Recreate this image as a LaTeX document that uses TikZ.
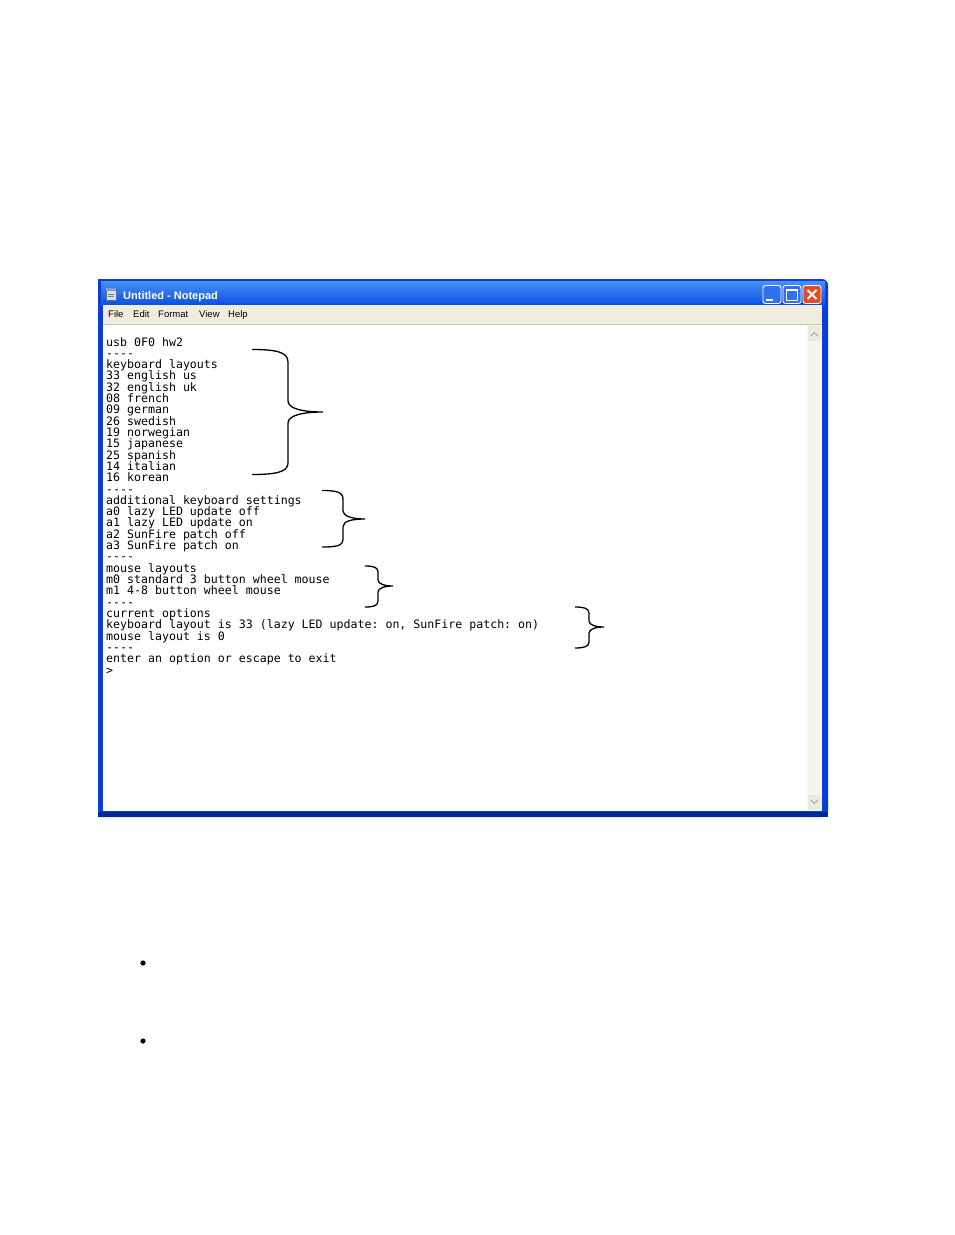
\documentclass[tikz,border=0pt]{standalone}
\usepackage{fontspec}
\setmainfont{Liberation Sans}
\setsansfont{Liberation Sans}
\setmonofont{DejaVu Sans Mono}
\begin{document}
\begin{tikzpicture}[x=1pt,y=-1pt,
  txt/.style={anchor=base west,inner sep=0pt,font=\ttfamily\fontsize{11.6}{11.3}\selectfont},
  menu/.style={anchor=base west,inner sep=0pt,font=\sffamily\fontsize{9.5}{10}\selectfont},
  brace/.style={draw=black,line width=1.3pt},
  winbtn/.style={draw=white,line width=0.9pt,rounded corners=2.5pt},
  dot/.style={circle,fill=black,inner sep=0pt,minimum size=5.2pt}]
\useasboundingbox (0,0) rectangle (954,1235);
\fill[white] (0,0) rectangle (954,1235);
% window frame
\fill[rounded corners=6pt,fill={rgb,255:red,12;green,62;blue,214}] (98,279) -- (828,279) -- (828,817) [sharp corners] -- (98,817) -- cycle;
\fill[fill={rgb,255:red,0;green,40;blue,150}] (98,812) rectangle (828,817);
\shade[top color={rgb,255:red,70;green,145;blue,250},bottom color={rgb,255:red,10;green,80;blue,225}] (101,281) rectangle (825,305);
% title bar content
\node[anchor=base west,inner sep=0pt,text=white,font=\sffamily\bfseries\fontsize{11}{12}\selectfont] (title) at (123,299.5) {Untitled - Notepad};
\fill[fill={rgb,255:red,210;green,225;blue,245},draw={rgb,255:red,90;green,110;blue,150}] (106,288) rectangle (116,300);
\fill[fill={rgb,255:red,120;green,160;blue,200}] (106,288) rectangle (116,291);
\draw[gray,line width=0.5pt] (108,294) -- (114,294) (108,296.5) -- (114,296.5);
% window buttons
\node[winbtn,fill={rgb,255:red,50;green,110;blue,240},minimum width=18pt,minimum height=18pt,inner sep=0pt] (bmin) at (772,294.5) {};
\draw[white,line width=2pt] (766,299.5) -- (773,299.5);
\node[winbtn,fill={rgb,255:red,50;green,110;blue,240},minimum width=18pt,minimum height=18pt,inner sep=0pt] (bmax) at (792,294.5) {};
\draw[white,line width=0.9pt] (786.5,289) rectangle (797.5,300);
\draw[white,line width=2pt] (786.5,290) -- (797.5,290);
\node[winbtn,fill={rgb,255:red,225;green,75;blue,40},minimum width=18pt,minimum height=18pt,inner sep=0pt] (bclose) at (812,294.5) {};
\draw[white,line width=1.8pt] (807.5,290) -- (816.5,299) (807.5,299) -- (816.5,290);
% menu bar
\fill[fill={rgb,255:red,240;green,237;blue,222}] (103,305) rectangle (822,324);
\draw[fill=none,draw={rgb,255:red,200;green,200;blue,190},line width=0.6pt] (103,324) -- (822,324);
\node[menu] (mfile) at (108,317.5) {File};
\node[menu] (medit) at (133,317.5) {Edit};
\node[menu] (mformat) at (158,317.5) {Format};
\node[menu] (mview) at (199,317.5) {View};
\node[menu] (mhelp) at (228,317.5) {Help};
% client area
\fill[white] (103,325) rectangle (807,811);
% scrollbar
\fill[fill={rgb,255:red,246;green,245;blue,238}] (807,325) rectangle (822,811);
\fill[fill={rgb,255:red,235;green,234;blue,222}] (808,326) rectangle (821,341);
\draw[gray!70,line width=0.9pt] (811,336) -- (814.5,332.5) -- (818,336);
\fill[fill={rgb,255:red,235;green,234;blue,222}] (808,795) rectangle (821,810);
\draw[gray!70,line width=0.9pt] (811,800) -- (814.5,803.5) -- (818,800);
% text lines
\foreach \t [count=\i] in {usb 0F0 hw2,----,keyboard layouts,33 english us,32 english uk,08 french,09 german,26 swedish,19 norwegian,15 japanese,25 spanish,14 italian,16 korean,----,additional keyboard settings,a0 lazy LED update off,a1 lazy LED update on,a2 SunFire patch off,a3 SunFire patch on,----,mouse layouts,m0 standard 3 button wheel mouse,m1 4-8 button wheel mouse,----,current options,{keyboard layout is 33 (lazy LED update: on, SunFire patch: on)},mouse layout is 0,----,enter an option or escape to exit,>}
  \node[txt] (l\i) at (106,{346+11.31*(\i-1)}) {\t};
% braces
\draw[brace] (252,349.5) .. controls (276,349.5) and (288,352) .. (288,362) -- (288,401)
  .. controls (288,409) and (304,412) .. (323,412)
  .. controls (304,412) and (288,415) .. (288,423) -- (288,463)
  .. controls (288,472) and (276,474.5) .. (252,474.5);
\draw[brace] (322,490.5) .. controls (336,490.5) and (343,492) .. (343,499) -- (343,511)
  .. controls (343,516) and (352,519) .. (365,519)
  .. controls (352,519) and (343,521) .. (343,527) -- (343,539)
  .. controls (343,546) and (336,547) .. (322,547);
\draw[brace] (365,566) .. controls (373,566) and (378,567) .. (378,572) -- (378,580)
  .. controls (378,584) and (385,586) .. (393,586)
  .. controls (385,586) and (378,588) .. (378,592) -- (378,601)
  .. controls (378,606) and (373,607) .. (365,607);
\draw[brace] (575,607) .. controls (583,607) and (589,608) .. (589,613) -- (589,621)
  .. controls (589,625) and (596,627) .. (604,627)
  .. controls (596,627) and (589,629) .. (589,633) -- (589,642)
  .. controls (589,647) and (583,648) .. (575,648);
% bullets
\node[dot] (b1) at (143,963) {};
\node[dot] (b2) at (143,1041) {};
\end{tikzpicture}
\end{document}
